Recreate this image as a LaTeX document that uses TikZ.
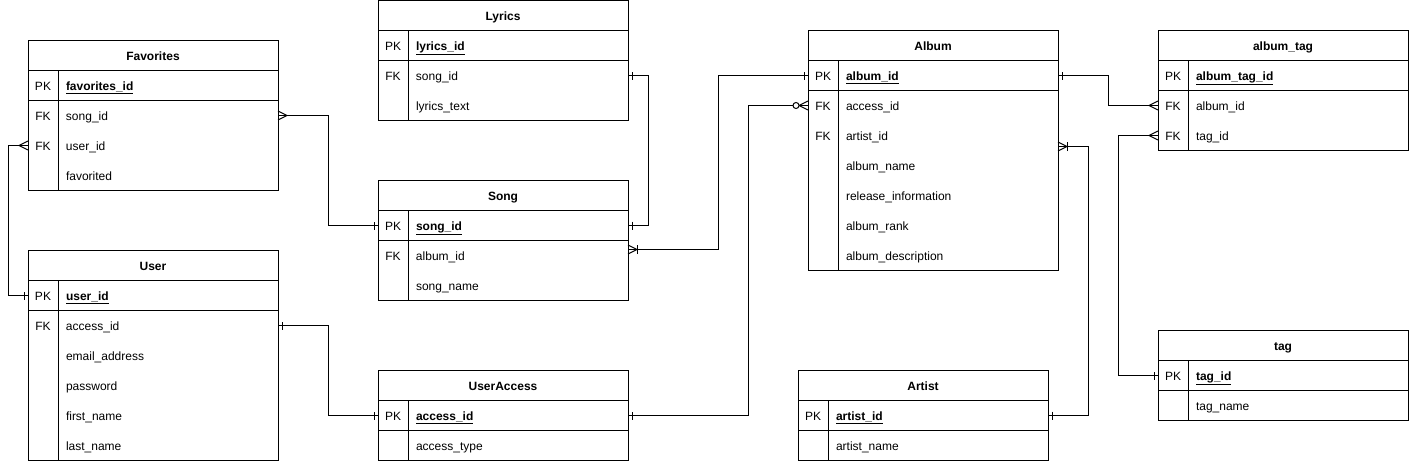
\documentclass[tikz,border=0pt]{standalone}
\usepackage{fontspec}
\setmainfont{Liberation Sans}
\usetikzlibrary{positioning,decorations.markings}

\newcommand{\pkrow}[1]{\noindent\makebox[30pt]{PK}\hspace{8pt}\underline{\textbf{#1}}}
\newcommand{\fkrow}[1]{\noindent\makebox[30pt]{FK}\hspace{8pt}#1}
\newcommand{\plainrow}[1]{\noindent\makebox[30pt]{}\hspace{8pt}#1}
\newcommand{\erframe}[3]{%
  \draw (#1.north west) rectangle (#3.south east);
  \draw (#2.north west) -- (#2.north east) (#2.south west) -- (#2.south east);
  \draw ([xshift=30pt]#2.north west) -- ([xshift=30pt]#3.south west);}

\begin{document}
\begin{tikzpicture}[x=1pt, y=-1pt, line width=1pt,
            font=\fontsize{12pt}{14pt}\selectfont,
            ertitle/.style={minimum width=250pt, minimum height=30pt, inner sep=0pt, outer sep=0pt, text height=12pt, text depth=2pt, font=\fontsize{12pt}{14pt}\selectfont\bfseries},
            erfield/.style={text width=250pt, minimum height=30pt, inner sep=0pt, outer sep=0pt, text height=12pt, text depth=2pt, align=left, below=0pt of #1},
            onestart/.style={postaction={decorate, decoration={markings, mark=at position 4pt with {\draw (0,-4pt) -- (0,4pt);}}}},
            oneend/.style={postaction={decorate, decoration={markings, mark=at position -4pt with {\draw (0,-4pt) -- (0,4pt);}}}},
            manystart/.style={postaction={decorate, decoration={markings, mark=at position 9pt with {\draw (-9pt,-4.5pt) -- (0,0) -- (-9pt,4.5pt);}}}},
            manyend/.style={postaction={decorate, decoration={markings, mark=at position -9pt with {\draw (9pt,-4.5pt) -- (0,0) -- (9pt,4.5pt);}}}},
            onemanystart/.style={postaction={decorate, decoration={markings, mark=at position 9pt with {\draw (-9pt,-4.5pt) -- (0,0) -- (-9pt,4.5pt); \draw (0,-4.5pt) -- (0,4.5pt);}}}},
            zeromanyend/.style={postaction={decorate, decoration={markings, mark=at position -9pt with {\draw (9pt,-4.5pt) -- (0,0) -- (9pt,4.5pt); \draw[fill=white] (-3pt,0) circle[radius=3pt];}}}}]
            \useasboundingbox (0,-0.5) rectangle (1409,460.5);

            \node[ertitle] (fav) at (153,55) {Favorites};
            \node[erfield=fav] (fav-pk) {\pkrow{favorites\_id}};
            \node[erfield=fav-pk] (fav-f1) {\fkrow{song\_id}};
            \node[erfield=fav-f1] (fav-f2) {\fkrow{user\_id}};
            \node[erfield=fav-f2] (fav-f3) {\plainrow{favorited}};
            \erframe{fav}{fav-pk}{fav-f3}

            \node[ertitle] (lyr) at (503,15) {Lyrics};
            \node[erfield=lyr] (lyr-pk) {\pkrow{lyrics\_id}};
            \node[erfield=lyr-pk] (lyr-f1) {\fkrow{song\_id}};
            \node[erfield=lyr-f1] (lyr-f2) {\plainrow{lyrics\_text}};
            \erframe{lyr}{lyr-pk}{lyr-f2}

            \node[ertitle] (song) at (503,195) {Song};
            \node[erfield=song] (song-pk) {\pkrow{song\_id}};
            \node[erfield=song-pk] (song-f1) {\fkrow{album\_id}};
            \node[erfield=song-f1] (song-f2) {\plainrow{song\_name}};
            \erframe{song}{song-pk}{song-f2}

            \node[ertitle] (alb) at (933,45) {Album};
            \node[erfield=alb] (alb-pk) {\pkrow{album\_id}};
            \node[erfield=alb-pk] (alb-f1) {\fkrow{access\_id}};
            \node[erfield=alb-f1] (alb-f2) {\fkrow{artist\_id}};
            \node[erfield=alb-f2] (alb-f3) {\plainrow{album\_name}};
            \node[erfield=alb-f3] (alb-f4) {\plainrow{release\_information}};
            \node[erfield=alb-f4] (alb-f5) {\plainrow{album\_rank}};
            \node[erfield=alb-f5] (alb-f6) {\plainrow{album\_description}};
            \erframe{alb}{alb-pk}{alb-f6}

            \node[ertitle] (atag) at (1283,45) {album\_tag};
            \node[erfield=atag] (atag-pk) {\pkrow{album\_tag\_id}};
            \node[erfield=atag-pk] (atag-f1) {\fkrow{album\_id}};
            \node[erfield=atag-f1] (atag-f2) {\fkrow{tag\_id}};
            \erframe{atag}{atag-pk}{atag-f2}

            \node[ertitle] (tag) at (1283,345) {tag};
            \node[erfield=tag] (tag-pk) {\pkrow{tag\_id}};
            \node[erfield=tag-pk] (tag-f1) {\plainrow{tag\_name}};
            \erframe{tag}{tag-pk}{tag-f1}

            \node[ertitle] (usr) at (153,265) {User};
            \node[erfield=usr] (usr-pk) {\pkrow{user\_id}};
            \node[erfield=usr-pk] (usr-f1) {\fkrow{access\_id}};
            \node[erfield=usr-f1] (usr-f2) {\plainrow{email\_address}};
            \node[erfield=usr-f2] (usr-f3) {\plainrow{password}};
            \node[erfield=usr-f3] (usr-f4) {\plainrow{first\_name}};
            \node[erfield=usr-f4] (usr-f5) {\plainrow{last\_name}};
            \erframe{usr}{usr-pk}{usr-f5}

            \node[ertitle] (uacc) at (503,385) {UserAccess};
            \node[erfield=uacc] (uacc-pk) {\pkrow{access\_id}};
            \node[erfield=uacc-pk] (uacc-f1) {\plainrow{access\_type}};
            \erframe{uacc}{uacc-pk}{uacc-f1}

            \node[ertitle] (art) at (923,385) {Artist};
            \node[erfield=art] (art-pk) {\pkrow{artist\_id}};
            \node[erfield=art-pk] (art-f1) {\plainrow{artist\_name}};
            \erframe{art}{art-pk}{art-f1}

            \draw[manystart, oneend] (fav-f1.east) -- ++(50,0) |- (song-pk.west);
            \draw[manystart, oneend] (fav-f2.west) -- ++(-20,0) |- (usr-pk.west);
            \draw[onestart, oneend] (lyr-f1.east) -- ++(20,0) |- (song-pk.east);
            \draw[onemanystart, oneend] ([yshift=6pt]song-f1.east) -- ++(90,0) |- (alb-pk.west);
            \draw[onestart, zeromanyend] (uacc-pk.east) -- ++(120,0) |- (alb-f1.west);
            \draw[onestart, oneend] (usr-f1.east) -- ++(50,0) |- (uacc-pk.west);
            \draw[onestart, manyend] (alb-pk.east) -- ++(50,0) |- (atag-f1.west);
            \draw[onemanystart, oneend] ([yshift=-11pt]alb-f2.east) -- ++(30,0) |- (art-pk.east);
            \draw[manystart, oneend] (atag-f2.west) -- ++(-40,0) |- (tag-pk.west);
        \end{tikzpicture}
\end{document}
